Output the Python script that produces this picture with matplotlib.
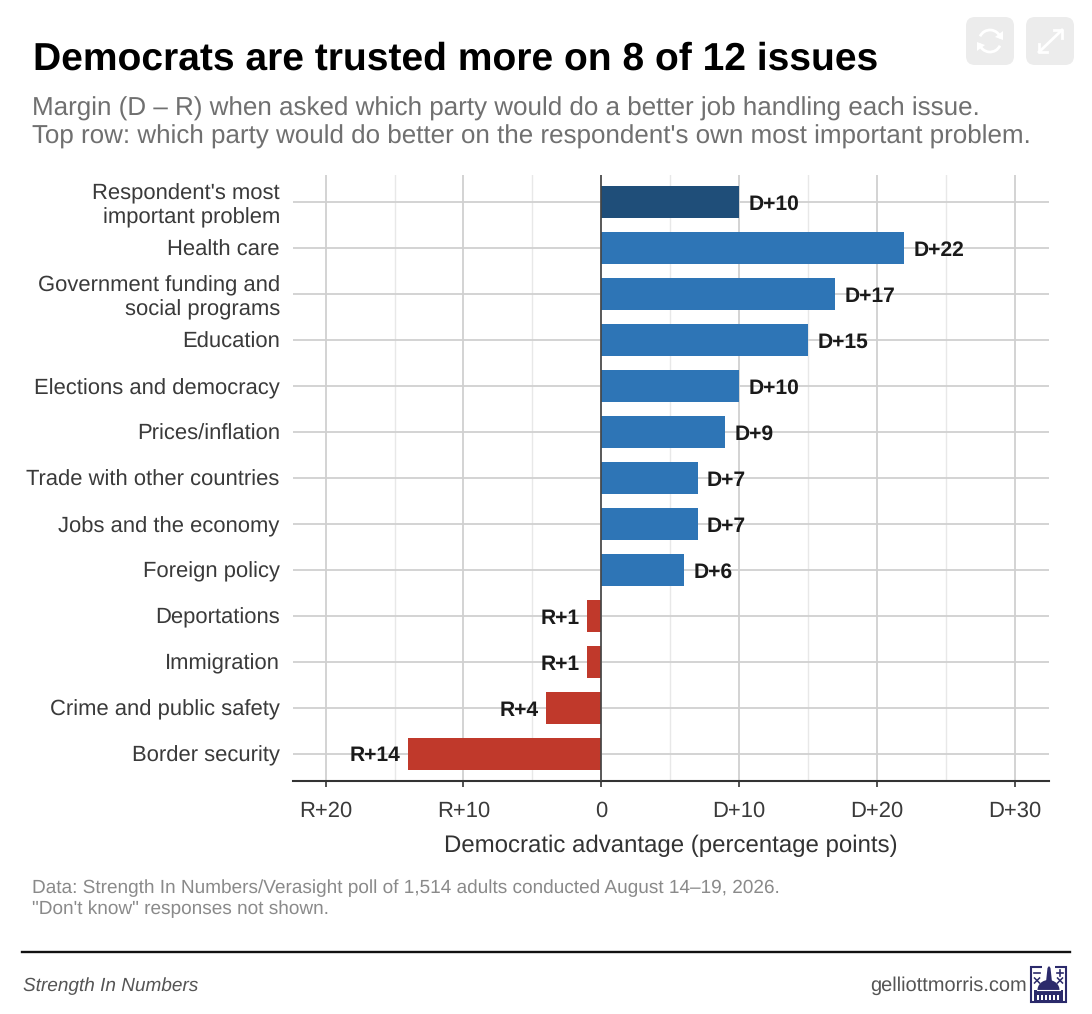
import matplotlib
matplotlib.use("Agg")
import matplotlib.pyplot as plt
from matplotlib.patches import FancyBboxPatch, Rectangle, Polygon, Ellipse, Arc
from matplotlib.lines import Line2D

plt.rcParams['font.family'] = ['Liberation Sans', 'DejaVu Sans']
plt.rcParams['text.hinting'] = 'no_hinting'
plt.rcParams['text.hinting_factor'] = 1

W, H = 1092, 1014
issues = ["Respondent's most\nimportant problem", "Health care",
          "Government funding and\nsocial programs", "Education",
          "Elections and democracy", "Prices/inflation",
          "Trade with other countries", "Jobs and the economy", "Foreign policy",
          "Deportations", "Immigration", "Crime and public safety", "Border security"]
margins = [10, 22, 17, 15, 10, 9, 7, 7, 6, -1, -1, -4, -14]
tick_vals = [-20, -10, 0, 10, 20, 30]
tick_labels = ["R+20", "R+10", "0", "D+10", "D+20", "D+30"]
minor_vals = [-15, -5, 5, 15, 25]
title = "Democrats are trusted more on 8 of 12 issues"
subtitle = ("Margin (D \u2013 R) when asked which party would do a better job handling each issue.\n"
            "Top row: which party would do better on the respondent's own most important problem.")
caption = ("Data: Strength In Numbers/Verasight poll of 1,514 adults conducted August 14\u201319, 2026.\n"
           "\"Don't know\" responses not shown.")

fig = plt.figure(figsize=(W / 100, H / 100), dpi=100, facecolor='white')
ax = fig.add_axes([293 / W, 1 - 781 / H, (1049 - 293) / W, (781 - 175) / H])

def bar_color(i, v):
    if i == 0:
        return '#1f4e79'
    return '#2e75b6' if v > 0 else '#c0392b'

ypos = list(range(len(issues)))
ax.barh(ypos, margins, height=0.7, color=[bar_color(i, v) for i, v in enumerate(margins)], zorder=3)
ax.set_ylim(len(issues) - 1 + 0.59, -0.59)
ax.set_xlim(-22.37, 32.5)

ax.set_xticks(tick_vals)
ax.set_xticklabels(tick_labels, fontsize=15.5, color='#3a3a3a')
ax.set_xticks(minor_vals, minor=True)
ax.set_yticks(ypos)
ax.set_yticklabels(issues, fontsize=15.5, color='#3a3a3a', linespacing=1.17)
ax.tick_params(axis='y', which='both', length=0, pad=9.5)
ax.tick_params(axis='x', which='minor', length=0)
ax.tick_params(axis='x', which='major', length=4, width=1.2, color='#333333', pad=10)
ax.grid(True, axis='x', which='major', color='#cccccc', lw=1.2, zorder=0)
ax.grid(True, axis='x', which='minor', color='#e8e8e8', lw=1.0, zorder=0)
ax.grid(True, axis='y', which='major', color='#d0d0d0', lw=1.3, zorder=0)
ax.axvline(0, color='#444444', lw=1.2, zorder=4)
for s in ['top', 'right', 'left']:
    ax.spines[s].set_visible(False)
ax.spines['bottom'].set_color('#333333')
ax.spines['bottom'].set_linewidth(1.5)
ax.set_xlabel("Democratic advantage (percentage points)", fontsize=17.0, color='#333333', labelpad=10)

for i, v in enumerate(margins):
    lab = f"D+{v}" if v > 0 else f"R+{-v}"
    off = 0.68 if v > 0 else -0.55
    ax.text(v + off, i, lab, ha='left' if v > 0 else 'right', va='center_baseline', fontsize=14.8,
            fontweight='bold', color='#1a1a1a', zorder=5)

fig.text(33 / W, 1 - 60 / H, title, fontsize=28.0, fontweight='bold', color='black', va='center')
fig.text(32 / W, 1 - 123 / H, subtitle, fontsize=18.7, color='#707070', va='center', linespacing=1.17)
fig.text(32 / W, 1 - 899 / H, caption, fontsize=14.0, color='#8a8a8a', va='center', linespacing=1.22)
fig.text(23 / W, 1 - 986 / H, "Strength In Numbers", fontsize=14.0, style='italic', color='#555555', va='center')
fig.text(1027 / W, 1 - 986 / H, "gelliottmorris.com", fontsize=14.05, color='#555555', va='center', ha='right')
fig.add_artist(Line2D([22 / W, 1070 / W], [1 - 952 / H] * 2, color='#111111', lw=1.7))

# overlay in pixel coordinates
ov = fig.add_axes([0, 0, 1, 1], facecolor='none')
ov.set_xlim(0, W); ov.set_ylim(H, 0); ov.axis('off'); ov.set_zorder(10)
for x0 in (966, 1026):
    ov.add_patch(FancyBboxPatch((x0 + 8, 25), 32, 32, boxstyle='round,pad=8,rounding_size=9',
                                fc='#ececec', ec='none'))
ov.add_patch(Arc((990, 41), 22, 22, theta1=25, theta2=165, color='white', lw=2))
ov.add_patch(Arc((990, 41), 22, 22, theta1=205, theta2=345, color='white', lw=2))
ov.add_patch(Polygon([[1003, 31], [1003, 40], [995, 37]], fc='white', ec='none'))
ov.add_patch(Polygon([[977, 51], [977, 42], [985, 45]], fc='white', ec='none'))
ov.plot([1039, 1062], [52, 30], color='white', lw=2)
ov.plot([1039, 1039, 1047], [44, 52, 52], color='white', lw=2)
ov.plot([1054, 1062, 1062], [30, 30, 38], color='white', lw=2)

navy = '#2b2a6b'
ov.add_patch(Rectangle((1031, 967), 35, 35, fc='none', ec=navy, lw=1.5))
ov.add_patch(Rectangle((1042, 965), 13, 8, fc='white', ec='none'))
ov.add_patch(Ellipse((1048.5, 990), 22, 20, fc=navy, ec='none'))
ov.add_patch(Rectangle((1034, 990), 29, 12, fc=navy, ec='none'))
ov.add_patch(Polygon([[1046, 982], [1047.5, 968], [1049, 966], [1050.5, 968], [1052, 982]], fc=navy, ec='none'))
ov.plot([1037, 1060], [989.5, 989.5], color='white', lw=0.8)
for xx in range(1037, 1061, 4):
    ov.add_patch(Rectangle((xx, 995), 1.6, 5, fc='white', ec='none'))
ov.plot([1034, 1040], [973, 973], color=navy, lw=1.2)
ov.plot([1057, 1063], [973, 973], color=navy, lw=1.2)
ov.plot([1060, 1060], [970, 976], color=navy, lw=1.2)
for cx in (1037, 1060):
    ov.plot([cx - 2.5, cx + 2.5], [978, 983], color=navy, lw=1.1)
    ov.plot([cx - 2.5, cx + 2.5], [983, 978], color=navy, lw=1.1)

fig.savefig('out.png', dpi=100, facecolor='white')
